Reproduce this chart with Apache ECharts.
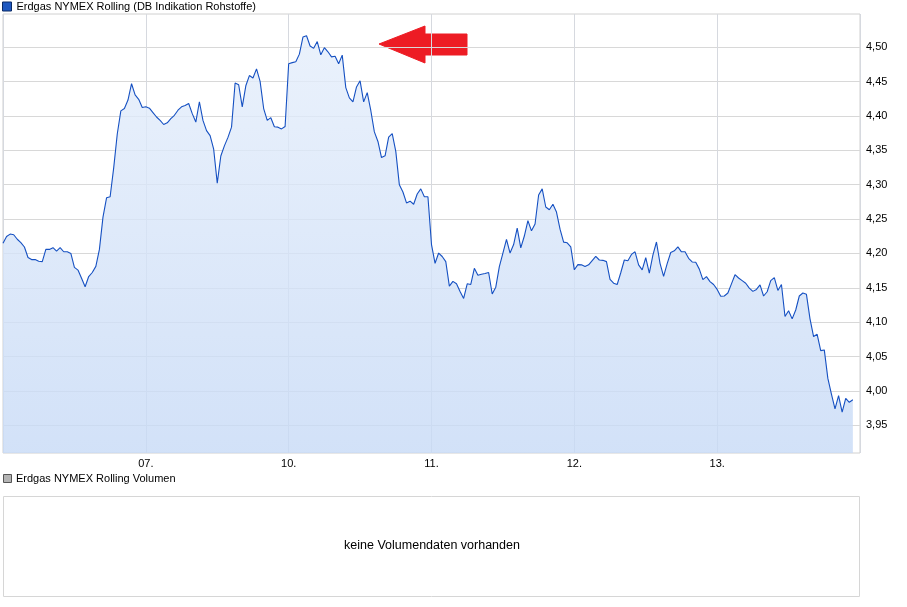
<!DOCTYPE html>
<html><head><meta charset="utf-8">
<script src="https://cdn.jsdelivr.net/npm/echarts@6/dist/echarts.min.js"></script>
<style>html,body{margin:0;padding:0;background:#fff}#c{width:907px;height:607px}</style>
</head><body><div id="c"></div>
<script>
const seriesName = 'Erdgas NYMEX Rolling (DB Indikation Rohstoffe)';
const volumeName = 'Erdgas NYMEX Rolling Volumen';
const noVolumeText = 'keine Volumendaten vorhanden';
const dayLabels = ['', '07.', '10.', '11.', '12.', '13.', ''];
const yTicks = [3.95, 4.00, 4.05, 4.10, 4.15, 4.20, 4.25, 4.30, 4.35, 4.40, 4.45, 4.50];
const pointsPerDay = 40;

const day06 = [4.2148,4.2247,4.2282,4.2272,4.2207,4.2158,4.2094,4.1941,4.1911,4.1911,
  4.1886,4.1881,4.2059,4.2059,4.2084,4.2035,4.2084,4.2025,4.2025,4.2000,
  4.1797,4.1758,4.1639,4.1516,4.1664,4.1723,4.1812,4.2059,4.2529,4.2810,
  4.2825,4.3245,4.3739,4.4075,4.4109,4.4233,4.4470,4.4307,4.4243,4.4124];
const day07 = [4.4134,4.4114,4.4050,4.3986,4.3936,4.3877,4.3902,4.3961,4.4011,4.4085,
  4.4134,4.4154,4.4183,4.4035,4.3912,4.4208,4.3936,4.3788,4.3714,4.3517,
  4.3023,4.3418,4.3566,4.3689,4.3838,4.4480,4.4455,4.4134,4.4440,4.4589,
  4.4554,4.4687,4.4505,4.4109,4.3936,4.3976,4.3843,4.3838,4.3813,4.3848];
const day10 = [4.4762,4.4777,4.4791,4.4901,4.5149,4.5169,4.5020,4.4985,4.5084,4.4891,
  4.4995,4.4935,4.4861,4.4871,4.4762,4.4886,4.4414,4.4265,4.4206,4.4424,
  4.4513,4.4206,4.4340,4.4081,4.3769,4.3630,4.3396,4.3421,4.3694,4.3744,
  4.3486,4.2999,4.2895,4.2736,4.2761,4.2716,4.2865,4.2940,4.2825,4.2825];
const day11 = [4.2130,4.1857,4.2006,4.1956,4.1882,4.1525,4.1594,4.1559,4.1445,4.1346,
  4.1559,4.1549,4.1783,4.1683,4.1698,4.1708,4.1723,4.1410,4.1510,4.1808,
  4.2006,4.2205,4.2006,4.2130,4.2369,4.2081,4.2254,4.2478,4.2329,4.2428,
  4.2850,4.2940,4.2676,4.2637,4.2716,4.2602,4.2354,4.2165,4.2155,4.2095];
const day12 = [4.1762,4.1838,4.1834,4.1810,4.1834,4.1895,4.1957,4.1905,4.1900,4.1881,
  4.1624,4.1567,4.1548,4.1719,4.1905,4.1895,4.1986,4.2024,4.1834,4.1762,
  4.1938,4.1715,4.1976,4.2167,4.1857,4.1667,4.1853,4.2014,4.2038,4.2095,
  4.2024,4.2024,4.1929,4.1876,4.1872,4.1772,4.1619,4.1662,4.1591,4.1548];
const day13 = [4.1477,4.1377,4.1381,4.1424,4.1558,4.1691,4.1643,4.1605,4.1567,4.1496,
  4.1448,4.1477,4.1543,4.1381,4.1443,4.1605,4.1648,4.1462,4.1548,4.1082,
  4.1167,4.1048,4.1177,4.1381,4.1424,4.1405,4.1048,4.0791,4.0824,4.0586,
  4.0596,4.0182,3.9953,3.9739,3.9930,3.9691,3.9891,3.9834,3.9870];

const days = [day06, day07, day10, day11, day12, day13];
const data = [];
days.forEach((arr, d) => arr.forEach((v, k) => data.push([d + k / pointsPerDay, v])));

const FONT = 'Liberation Sans';
const chart = echarts.init(document.getElementById('c'), null, {renderer: 'canvas'});
chart.setOption({
  animation: false,
  backgroundColor: '#ffffff',
  legend: {
    data: [seriesName], left: 2, top: 1, icon: 'rect', itemWidth: 9, itemHeight: 9,
    itemStyle: {color: '#1f58c0', borderColor: '#0b2a66', borderWidth: 1},
    textStyle: {fontFamily: FONT, fontSize: 11, color: '#000'}, selectedMode: false, padding: 0
  },
  grid: {left: 3, right: 47, top: 14, bottom: 154, show: true, borderColor: '#d0d0d0', borderWidth: 1, containLabel: false},
  xAxis: {
    type: 'value', min: 0, max: 6, interval: 1,
    axisLine: {show: false}, axisTick: {show: false},
    axisLabel: {formatter: v => dayLabels[v] || '', fontFamily: FONT, fontSize: 11, color: '#000', margin: 5},
    splitLine: {show: true, lineStyle: {color: '#d6d9df', width: 1}}
  },
  yAxis: {
    type: 'value', position: 'right', min: 3.9096, max: 4.5485,
    axisLine: {show: false},
    axisTick: {show: false, customValues: yTicks},
    axisLabel: {customValues: yTicks, formatter: v => v.toFixed(2).replace('.', ','), fontFamily: FONT, fontSize: 11, color: '#000', margin: 6},
    splitLine: {show: true, lineStyle: {color: '#d8d8d8', width: 1}}
  },
  series: [{
    name: seriesName, type: 'line', data: data, showSymbol: false, symbol: 'none',
    lineStyle: {color: '#1550c2', width: 1.1},
    itemStyle: {color: '#1f58c0'},
    areaStyle: {opacity: 0.8, color: new echarts.graphic.LinearGradient(0, 0, 0, 1, [
      {offset: 0, color: '#e5eefb'}, {offset: 1, color: '#c7daf6'}])}
  }],
  graphic: [
    {type: 'polygon', shape: {points: [[379,44],[425,26],[425,34],[467,34],[467,55],[425,55],[425,63]]},
     style: {fill: '#ed1c24', stroke: '#ed1c24', lineWidth: 1, lineJoin: 'round'}},
    {type: 'rect', shape: {x: 3.5, y: 474.5, width: 8, height: 8}, style: {fill: '#b4b4b4', stroke: '#555', lineWidth: 1}},
    {type: 'text', x: 16, y: 479, style: {text: volumeName, fontFamily: FONT, fontSize: 11, fill: '#000', verticalAlign: 'middle'}},
    {type: 'rect', shape: {x: 3.5, y: 496.5, width: 856, height: 100}, style: {fill: '#fff', stroke: '#d6d6d6', lineWidth: 1}},
    {type: 'text', x: 432, y: 546, style: {text: noVolumeText, fontFamily: FONT, fontSize: 12.5, fill: '#000', align: 'center', verticalAlign: 'middle'}}
  ]
});
</script></body></html>
